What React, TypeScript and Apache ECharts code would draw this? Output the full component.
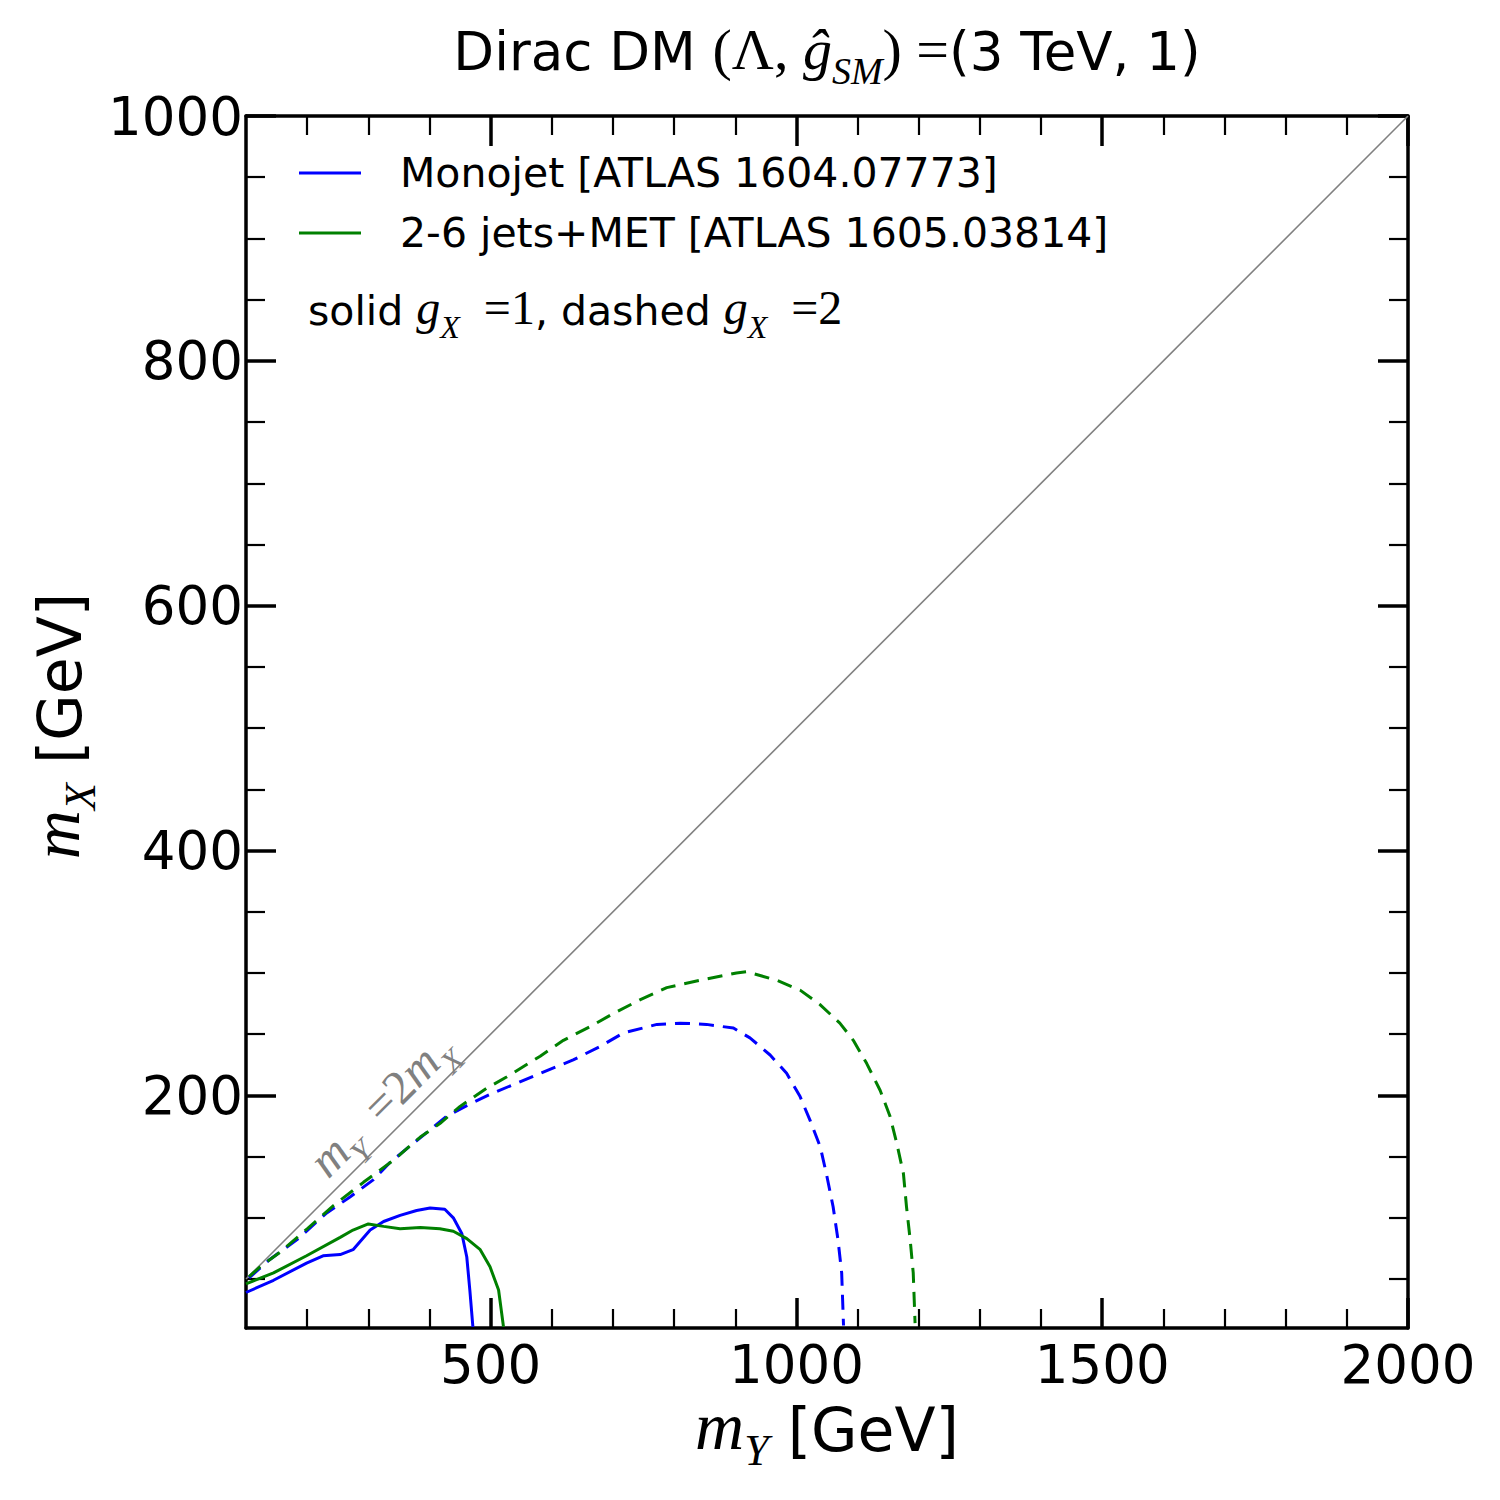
import React, { useEffect, useRef } from "react";
import * as echarts from "echarts";

// ---- data (m_Y [GeV], m_X [GeV]) ----
const xMajorTicks = [500, 1000, 1500, 2000];
const xMinorTicks = [200, 300, 400, 600, 700, 800, 900, 1100, 1200, 1300, 1400, 1600, 1700, 1800, 1900];
const yMajorTicks = [200, 400, 600, 800, 1000];
const yMinorTicks = [50, 100, 150, 250, 300, 350, 450, 500, 550, 650, 700, 750, 850, 900, 950];

const diagonal = [[100, 50], [2000, 1000]];

const monojetG1 = [
  [100, 39], [145, 49], [199, 63], [226, 69], [254, 70], [275, 74], [303, 90], [325, 97],
  [352, 102], [379, 106], [401, 108], [425, 107], [439, 100], [453, 87], [461, 68], [466, 41], [471, 11],
];
const jetsG1 = [
  [100, 46], [145, 55], [199, 69], [254, 84], [275, 90], [300, 95], [325, 93], [352, 91],
  [385, 92], [417, 91], [439, 89], [461, 83], [483, 74], [499, 60], [513, 41], [521, 11],
];
const monojetG2 = [
  [105, 51], [139, 66], [183, 82], [232, 104], [270, 117], [308, 131], [335, 145], [374, 161],
  [406, 174], [428, 183], [466, 193], [504, 202], [543, 210], [581, 218], [635, 229], [679, 240],
  [717, 251], [772, 258], [810, 259], [853, 258], [897, 255], [924, 247], [957, 233], [984, 218],
  [1006, 199], [1022, 180], [1039, 158], [1049, 136], [1060, 109], [1068, 82], [1074, 55], [1077, 12],
];
const jetsG2 = [
  [105, 52], [123, 60], [156, 72], [200, 91], [243, 110], [292, 129], [341, 147], [385, 166],
  [417, 177], [450, 191], [494, 206], [526, 215], [581, 232], [619, 245], [662, 256], [701, 267],
  [744, 278], [788, 288], [842, 294], [902, 300], [919, 301], [968, 294], [1006, 286], [1039, 274],
  [1071, 259], [1093, 245], [1115, 226], [1137, 204], [1153, 183], [1164, 161], [1175, 136],
  [1180, 109], [1186, 82], [1191, 55], [1194, 14],
];

const monoName = "Monojet [ATLAS 1604.07773]";
const jetsName = "2-6 jets+MET [ATLAS 1605.03814]";

const SANS = "DejaVu Sans";
const SERIF = "Liberation Serif";
const BLUE = "#0000ff";
const GREEN = "#008000";

function App() {
  const ref = useRef<HTMLDivElement>(null);
  useEffect(() => {
    if (!ref.current) return;
    const chart = echarts.init(ref.current, null, { renderer: "svg" });

    const fmt = (v: number) => String(v);
    const axisBase = (min: number, max: number) => ({
      type: "value",
      min,
      max,
      splitLine: { show: false },
      axisLine: { show: true, onZero: false, lineStyle: { color: "#000", width: 3.5 } },
    });
    const majorX = (pos: string, labels: boolean) => ({
      ...axisBase(100, 2000),
      position: pos,
      axisTick: { show: true, inside: true, length: 30, customValues: xMajorTicks, lineStyle: { color: "#000", width: 3.5 } },
      axisLabel: labels
        ? { show: true, customValues: xMajorTicks, formatter: fmt, fontSize: 53, fontFamily: SANS, color: "#000", margin: 10 }
        : { show: false },
    });
    const minorX = (pos: string) => ({
      ...axisBase(100, 2000),
      position: pos,
      axisLine: { show: false },
      axisTick: { show: true, inside: true, length: 19, customValues: xMinorTicks, lineStyle: { color: "#000", width: 2.2 } },
      axisLabel: { show: false },
    });
    const majorY = (pos: string, labels: boolean) => ({
      ...axisBase(10, 1000),
      position: pos,
      axisTick: { show: true, inside: true, length: 30, customValues: yMajorTicks, lineStyle: { color: "#000", width: 3.5 } },
      axisLabel: labels
        ? { show: true, customValues: yMajorTicks, formatter: fmt, fontSize: 53, fontFamily: SANS, color: "#000", margin: 3 }
        : { show: false },
    });
    const minorY = (pos: string) => ({
      ...axisBase(10, 1000),
      position: pos,
      axisLine: { show: false },
      axisTick: { show: true, inside: true, length: 19, customValues: yMinorTicks, lineStyle: { color: "#000", width: 2.2 } },
      axisLabel: { show: false },
    });

    const mainPad = [0, 0, 12, 0];
    const richBase = (sans: number, serif: number, sub: number, color: string) => ({
      a: { fontFamily: SANS, fontSize: sans, fill: color, verticalAlign: "bottom", padding: mainPad },
      p: { fontFamily: SERIF, fontSize: serif, fill: color, verticalAlign: "bottom", padding: mainPad },
      i: { fontFamily: SERIF, fontStyle: "italic", fontSize: serif, fill: color, verticalAlign: "bottom", padding: mainPad },
      sub: { fontFamily: SERIF, fontStyle: "italic", fontSize: sub, fill: color, verticalAlign: "bottom" },
    });

    const lineSeries = (name: string, data: number[][], color: string, dashed: boolean, width = 3) => ({
      name,
      type: "line",
      data,
      symbol: "none",
      showSymbol: false,
      smooth: false,
      itemStyle: { color },
      lineStyle: { color, width, type: dashed ? [15, 9] : "solid" },
      z: 3,
    });

    chart.setOption({
      animation: false,
      backgroundColor: "#fff",
      grid: { left: 246, top: 116, right: 92, bottom: 172, containLabel: false },
      xAxis: [majorX("bottom", true), minorX("bottom"), majorX("top", false), minorX("top")],
      yAxis: [majorY("left", true), minorY("left"), majorY("right", false), minorY("right")],
      legend: {
        show: true,
        orient: "vertical",
        left: 294,
        top: 146,
        itemWidth: 62,
        itemHeight: 3,
        itemGap: 16,
        data: [
          { name: monoName, icon: "rect", itemStyle: { color: BLUE } },
          { name: jetsName, icon: "rect", itemStyle: { color: GREEN } },
        ],
        textStyle: { fontFamily: SANS, fontSize: 41, color: "#000", lineHeight: 44, padding: [0, 0, 0, 34] },
      },
      series: [
        {
          name: "diag",
          type: "line",
          data: diagonal,
          symbol: "none",
          lineStyle: { color: "#808080", width: 1.6 },
          itemStyle: { color: "#808080" },
          z: 2,
        },
        lineSeries(monoName, monojetG1, BLUE, false),
        lineSeries(jetsName, jetsG1, GREEN, false),
        lineSeries(monoName, monojetG2, BLUE, true),
        lineSeries(jetsName, jetsG2, GREEN, true),
      ],
      graphic: [
        {
          type: "text",
          x: 827,
          y: 55,
          style: {
            text: "{a|Dirac DM }{p|(Λ, }{i|ĝ}{sub|SM}{p|) =}{a|(3 TeV, 1)}",
            align: "center",
            verticalAlign: "middle",
            rich: richBase(53, 58, 38, "#000"),
          },
        },
        {
          type: "text",
          x: 827,
          y: 1432,
          style: {
            text: "{i|m}{sub|Y}{a| [GeV]}",
            align: "center",
            verticalAlign: "middle",
            rich: richBase(60, 68, 44, "#000"),
          },
        },
        {
          type: "text",
          x: 62,
          y: 726,
          rotation: Math.PI / 2,
          style: {
            text: "{i|m}{sub|X}{a| [GeV]}",
            align: "center",
            verticalAlign: "middle",
            rich: richBase(60, 68, 44, "#000"),
          },
        },
        {
          type: "text",
          x: 308,
          y: 313,
          style: {
            text: "{a|solid }{i|g}{sub|X}{p|  =1}{a|, dashed }{i|g}{sub|X}{p|  =2}",
            align: "left",
            verticalAlign: "middle",
            rich: richBase(41, 48, 32, "#000"),
          },
        },
        {
          type: "text",
          x: 385,
          y: 1108,
          rotation: Math.PI / 4,
          style: {
            text: "{i|m}{sub|Y}{p|  =2}{i|m}{sub|X}",
            align: "center",
            verticalAlign: "middle",
            rich: richBase(44, 48, 32, "#808080"),
          },
        },
      ],
    });
    return () => chart.dispose();
  }, []);
  return (
    <div
      ref={ref}
      style={{ position: "fixed", left: 0, top: 0, width: 1500, height: 1500, background: "#fff" }}
    />
  );
}

export default App;
